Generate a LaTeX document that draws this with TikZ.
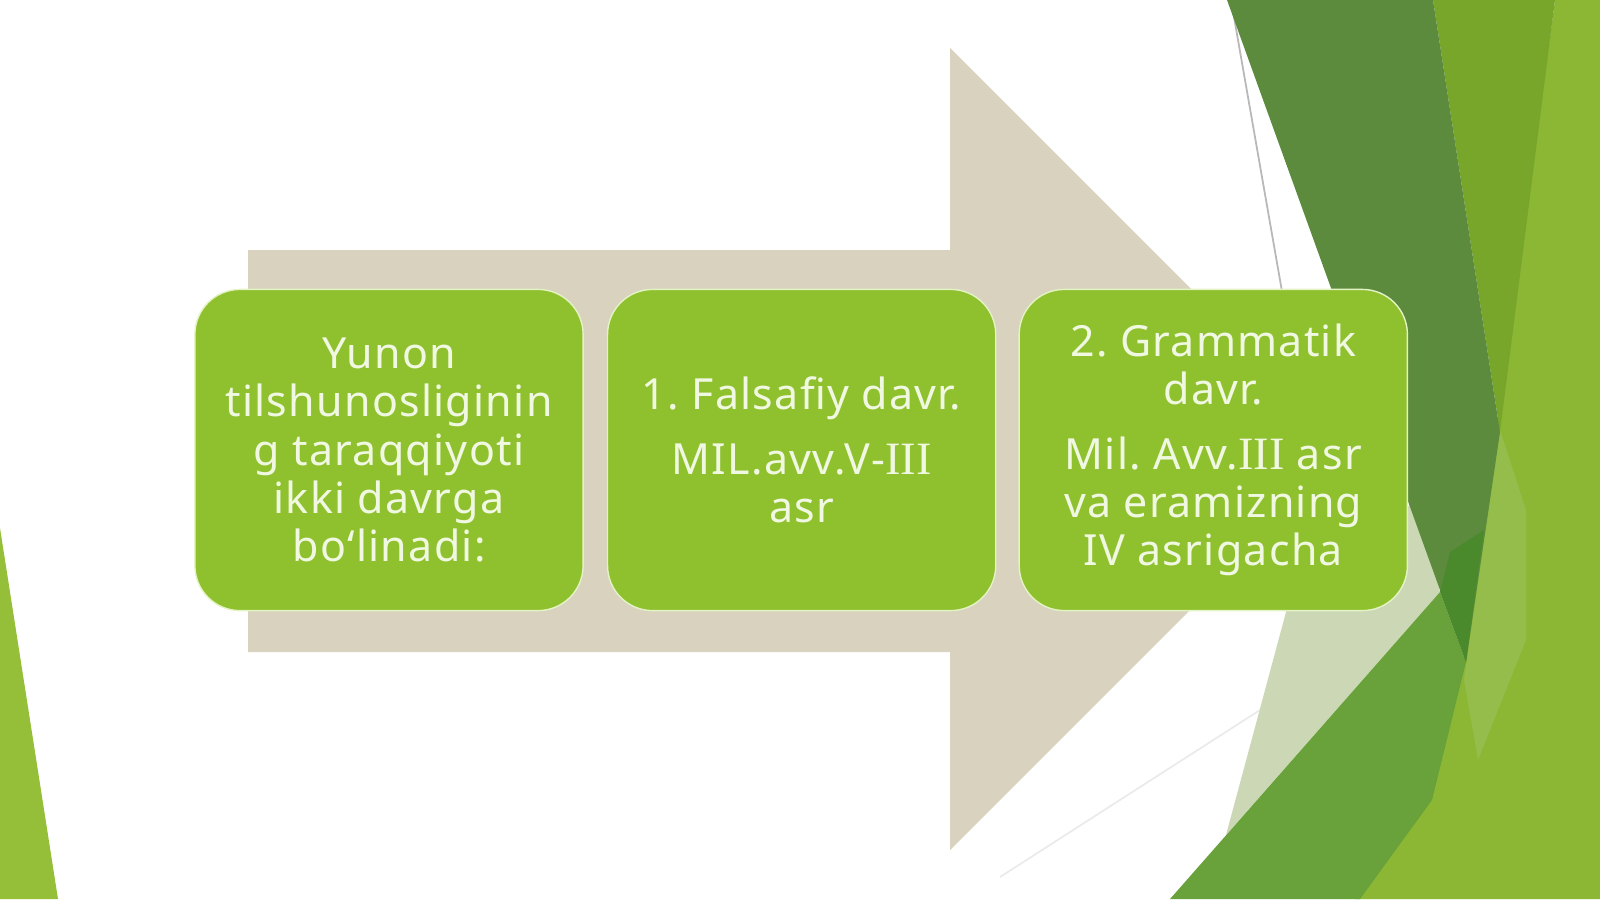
\documentclass[tikz,border=0pt]{standalone}
\usepackage{fontspec}
\setmainfont{Noto Sans}[LetterSpace=3]
\newfontfamily\romfont[Scale=1.08]{Liberation Serif}
\usetikzlibrary{positioning}
\frenchspacing
\definecolor{stagegreen}{HTML}{8FC12F}
\definecolor{stageline}{HTML}{E4F3C4}
\definecolor{stagetext}{HTML}{F1F8E2}
\definecolor{arrowbeige}{HTML}{D8D2BE}
\definecolor{leafgreen}{HTML}{95BF38}
\definecolor{darkleaf}{HTML}{5C8B3D}
\definecolor{deepleaf}{HTML}{4A8A2C}
\definecolor{oliveleaf}{HTML}{78A62B}
\definecolor{lightleaf}{HTML}{8BB735}
\definecolor{midleaf}{HTML}{69A23A}
\definecolor{sageleaf}{HTML}{CCD8B5}
\definecolor{paleleaf}{HTML}{95BD4B}
\tikzset{stage/.style={draw=stageline, line width=0.4pt, fill=stagegreen, rounded corners=0.45cm,
    minimum width=3.88cm, minimum height=3.21cm, inner sep=0pt, align=center,
    text=stagetext, font=\fontsize{12.2}{13.7}\selectfont}}

\begin{document}
\begin{tikzpicture}[x=0.01cm,y=-0.01cm]
   \useasboundingbox (0,0) rectangle (1600,899);
   \fill[white] (0,0) rectangle (1600,899);
   \begin{scope}
    \clip (0,0) rectangle (1600,899);
    \fill[leafgreen] (0,528) -- (58,899) -- (0,899) -- cycle;
    \fill[arrowbeige] (248,250) -- (950,250) -- (950,48) -- (1351,449)
                   -- (950,850) -- (950,652) -- (248,652) -- cycle;
    \draw[black!8, line width=0.5pt] (1000,877) -- (1260,710);
    \draw[black!28, line width=0.5pt] (1231,0) -- (1350,680);
    \fill[sageleaf] (1300,560) -- (1420,500) -- (1440,592) -- (1226,835) -- cycle;
    \fill[lightleaf] (1555,0) -- (1600,0) -- (1600,899) -- (1355,899)
                  -- (1462,672) -- (1497,430) -- cycle;
    \fill[paleleaf] (1500,430) -- (1526,510) -- (1526,640) -- (1478,760) -- (1464,680) -- cycle;
    \fill[oliveleaf] (1433,0) -- (1555,0) -- (1500,432) -- cycle;
    \fill[darkleaf] (1227,0) -- (1433,0) -- (1500,432) -- (1466,662) -- cycle;
    \fill[midleaf] (1170,899) -- (1440,592) -- (1466,662) -- (1432,800) -- (1360,899) -- cycle;
    \fill[deepleaf] (1440,592) -- (1450,552) -- (1484,530) -- (1466,662) -- cycle;
   \end{scope}
   \node[stage] (yunon) at (389,450) {Yunon\\tilshunosliginin\\g taraqqiyoti\\ikki davrga\\bo‘linadi:};
   \node[stage, right=0.23cm of yunon] (falsafiy) {1. Falsafiy davr.\\[4.8pt]MIL.avv.V-{\romfont III}\\asr};
   \node[stage, right=0.22cm of falsafiy] (grammatik) {2. Grammatik\\davr.\\[4.8pt]Mil. Avv.{\romfont III} asr\\va eramizning\\IV asrigacha};
\end{tikzpicture}
\end{document}
